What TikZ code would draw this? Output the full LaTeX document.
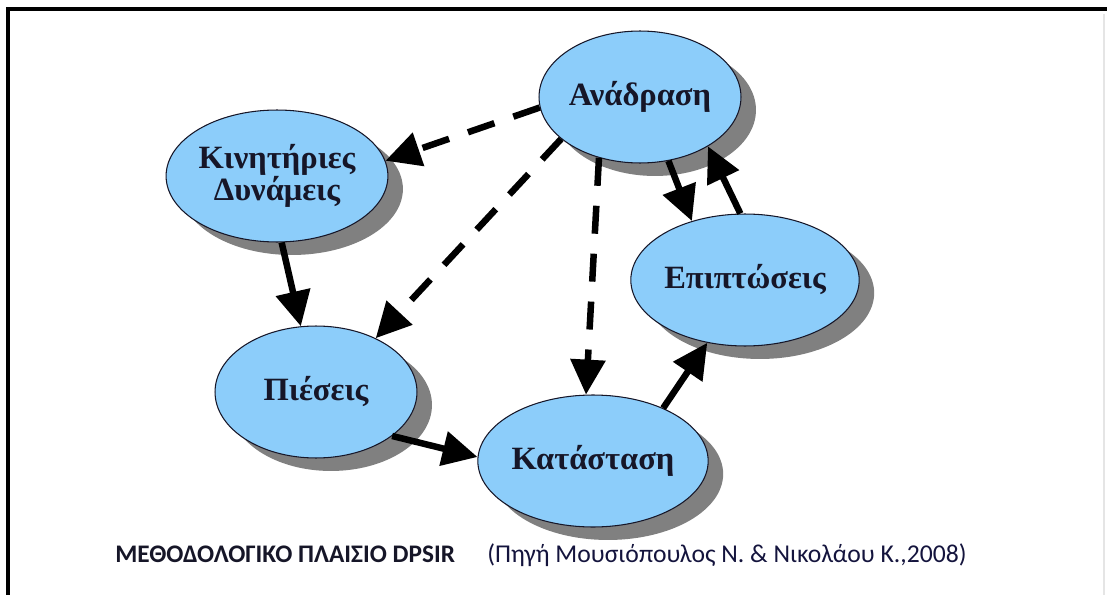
\documentclass[tikz,border=0pt]{standalone}
\usepackage{fontspec}
\setmainfont{Liberation Serif}
\newfontfamily\capfont{Carlito}
\usetikzlibrary{shapes.geometric,arrows.meta,shadows}
\definecolor{bubble}{RGB}{140,205,250}
\definecolor{shade}{RGB}{128,128,128}
\definecolor{ink}{RGB}{22,22,40}
\tikzset{
  bub/.style={ellipse, draw=ink, line width=0.6pt, fill=bubble,
    minimum width=4.04cm, minimum height=2.64cm, inner sep=0pt,
    align=center, text=ink,
    font=\fontsize{18.5}{18}\selectfont\bfseries,
    drop shadow={shadow xshift=0.3cm, shadow yshift=-0.26cm, fill=shade, opacity=1}},
  conn/.style={line width=0.13cm, -{Triangle[length=0.7cm,width=0.68cm]}},
  dconn/.style={conn, dash pattern=on 0.56cm off 0.4cm},
  frameline/.style={line width=2pt, black}
}
\begin{document}
\begin{tikzpicture}[x=0.02cm,y=-0.02cm]
\useasboundingbox (0,0) rectangle (1107,595);
\draw[frameline] (1107,9) -- (8,9) -- (8,595);
\draw[gray!20, line width=0.6pt] (1104,14) -- (1104,595);
\node[bub] (A) at (640,97) {Ανάδραση};
\node[bub] (K) at (277,176) {Κινητήριες\\Δυνάμεις};
\node[bub] (P) at (316,392) {Πιέσεις};
\node[bub] (S) at (593,461) {Κατάσταση};
\node[bub] (E) at (745,280) {Επιπτώσεις};
\draw[dconn] (A.186) -- (K.8);
\draw[dconn] (A.208) -- (P.42);
\draw[dconn] (A.236) -- (S.96);
\draw[conn] (A.294) -- (E.132);
\draw[conn] (E.94) -- (A.324);
\draw[conn] (K.274) -- (P.103);
\draw[conn] (P.330) -- (S.178);
\draw[conn] (S.37) -- (E.239);
\node[anchor=base west, inner sep=0pt, font=\capfont\fontsize{14.4}{14}\selectfont\bfseries, text=ink] (cap) at (115,562) {ΜΕΘΟΔΟΛΟΓΙΚΟ ΠΛΑΙΣΙΟ DPSIR};
\node[anchor=base west, inner sep=0pt, font=\capfont\fontsize{14.6}{14}\selectfont, text=ink!90!blue] (src) at (487,562) {(Πηγή Μουσιόπουλος Ν. \& Νικολάου Κ.,2008)};
\end{tikzpicture}
\end{document}
